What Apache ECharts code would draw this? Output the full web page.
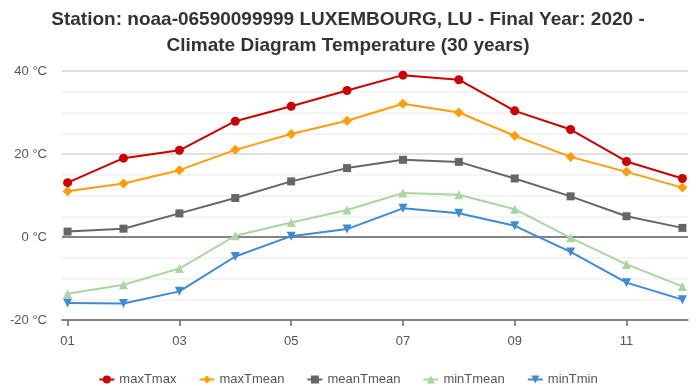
<!DOCTYPE html>
<html>
<head>
<meta charset="utf-8">
<script src="https://cdn.jsdelivr.net/npm/echarts@6/dist/echarts.min.js"></script>
<style>
  html, body { margin: 0; padding: 0; background: #fff; }
  #chart { width: 696px; height: 386px; }
</style>
</head>
<body>
<div id="chart"></div>
<script>
// Monthly climate temperature summary, Luxembourg (30 years)
const months = [1, 2, 3, 4, 5, 6, 7, 8, 9, 10, 11, 12];
const monthTicks = [1, 3, 5, 7, 9, 11];
const maxTmax = [13.1, 19.0, 20.9, 27.9, 31.5, 35.3, 39.0, 37.9, 30.4, 25.9, 18.2, 14.1];
const maxTmean = [11.0, 12.9, 16.1, 21.0, 24.8, 28.0, 32.1, 30.0, 24.4, 19.3, 15.7, 11.9];
const meanTmean = [1.3, 2.0, 5.7, 9.4, 13.4, 16.6, 18.6, 18.1, 14.1, 9.8, 5.0, 2.2];
const minTmean = [-13.7, -11.5, -7.6, 0.3, 3.5, 6.5, 10.6, 10.2, 6.7, -0.2, -6.6, -11.9];
const minTmin = [-15.9, -16.0, -13.1, -4.7, 0.2, 1.9, 6.9, 5.7, 2.7, -3.6, -11.0, -15.1];

const pairs = vals => months.map((m, i) => [m, vals[i]]);
const pad2 = v => (v < 10 ? '0' : '') + v;
const FONT = 'Liberation Sans, Arial, sans-serif';

const seriesDefs = [
  { name: 'maxTmax', data: maxTmax, color: '#cc0000', symbol: 'circle', size: 9 },
  { name: 'maxTmean', data: maxTmean, color: '#ff9c0a', symbol: 'diamond', size: 10 },
  { name: 'meanTmean', data: meanTmean, color: '#666666', symbol: 'rect', size: 8 },
  { name: 'minTmean', data: minTmean, color: '#a9d6a0', symbol: 'triangle', size: 9 },
  { name: 'minTmin', data: minTmin, color: '#3d8ad6', symbol: 'path://M0,0 L10,0 L5,9 Z', size: 9 }
];

const chart = echarts.init(document.getElementById('chart'));
chart.setOption({
  animation: false,
  title: {
    text: 'Station: noaa-06590099999 LUXEMBOURG, LU - Final Year: 2020 -\nClimate Diagram Temperature (30 years)',
    left: 'center',
    top: 2,
    textStyle: { fontFamily: FONT, fontSize: 19, fontWeight: 'bold', color: '#333', lineHeight: 26 }
  },
  legend: {
    top: 368,
    left: 'center',
    itemGap: 22,
    itemWidth: 15,
    itemHeight: 10,
    textStyle: { fontFamily: FONT, fontSize: 13, color: '#555' },
    data: seriesDefs.map(s => s.name)
  },
  grid: { left: 62, right: 8, top: 71, bottom: 66 },
  xAxis: {
    type: 'value',
    min: 0.9,
    max: 12.1,
    splitLine: { show: false },
    axisLine: { show: true, onZero: false, lineStyle: { color: '#666', width: 1.5 } },
    axisTick: { show: true, customValues: monthTicks, length: 6, lineStyle: { color: '#666', width: 1.5 } },
    axisLabel: {
      customValues: monthTicks,
      formatter: v => pad2(Math.round(v)),
      fontFamily: FONT,
      fontSize: 13,
      color: '#555',
      margin: 15
    }
  },
  yAxis: {
    type: 'value',
    min: -20,
    max: 40,
    interval: 20,
    axisLine: { show: false },
    axisTick: { show: false },
    axisLabel: {
      formatter: v => v + ' °C',
      fontFamily: FONT,
      fontSize: 13,
      color: '#555',
      margin: 15
    },
    splitLine: { show: true, lineStyle: { color: '#e0e0e0', width: 2 } },
    minorTick: { show: false, splitNumber: 4 },
    minorSplitLine: { show: true, lineStyle: { color: '#f1f1f1', width: 1.5 } }
  },
  series: seriesDefs.map((s, idx) => ({
    name: s.name,
    type: 'line',
    data: pairs(s.data),
    symbol: s.symbol,
    symbolSize: s.size,
    showSymbol: true,
    color: s.color,
    itemStyle: { color: s.color },
    lineStyle: { color: s.color, width: 2 },
    z: 10 - idx,
    markLine: idx === 0 ? {
      silent: true,
      symbol: 'none',
      label: { show: false },
      lineStyle: { color: '#666', width: 1.5, type: 'solid' },
      data: [{ yAxis: 0 }],
      z: 1
    } : undefined
  }))
});
</script>
</body>
</html>
